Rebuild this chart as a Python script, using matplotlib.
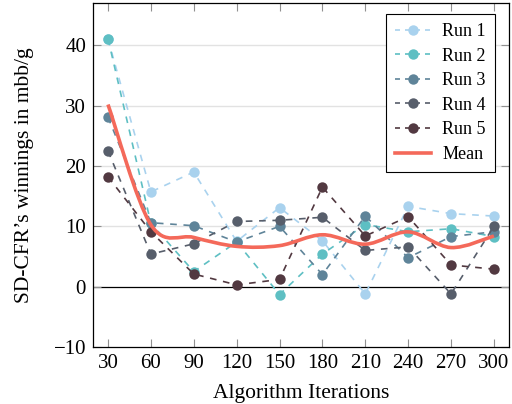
import numpy as np
import matplotlib
matplotlib.use('Agg')
import matplotlib.pyplot as plt
from matplotlib.path import Path
import matplotlib.patches as patches
from matplotlib.lines import Line2D

plt.rcParams['font.family'] = ['Liberation Serif', 'DejaVu Serif']
plt.rcParams['axes.unicode_minus'] = True

# --- DATA ---
iterations = [30, 60, 90, 120, 150, 180, 210, 240, 270, 300]
run1 = [41.0, 15.7, 19.0, 7.5, 13.1, 7.6, -1.2, 13.3, 12.1, 11.7]
run2 = [41.1, 10.5, 2.5, 7.4, -1.3, 5.4, 10.3, 9.1, 9.6, 8.3]
run3 = [28.1, 10.6, 10.1, 7.4, 10.0, 2.0, 11.7, 4.8, 8.3, 9.1]
run4 = [22.5, 5.4, 7.1, 10.8, 11.0, 11.5, 6.0, 6.6, -1.2, 10.0]
run5 = [18.2, 9.1, 2.1, 0.3, 1.2, 16.5, 8.4, 11.6, 3.6, 2.9]
run_labels = ['Run 1', 'Run 2', 'Run 3', 'Run 4', 'Run 5']
run_colors = ['#a9d2ee', '#5ebfc3', '#5f8499', '#575e6b', '#523941']
mean_color = '#f4695a'

runs = [run1, run2, run3, run4, run5]
mean = np.mean(np.array(runs), axis=0)

# --- PLOT ---
fig = plt.figure(figsize=(5.12, 4.04), dpi=100)
ax = fig.add_axes([0.1816, 0.141, 0.8124, 0.8516])

ax.set_xlim(19.5, 310.5)
ax.set_ylim(-10, 47)

for y in [10, 20, 30, 40]:
    ax.axhline(y, color='#e2e2e2', linewidth=1.0, zorder=0)
ax.axhline(0, color='black', linewidth=0.9, zorder=1)

for vals, lab, col in zip(runs, run_labels, run_colors):
    ax.plot(iterations, vals, linestyle=(0, (4, 4)), color=col, linewidth=1.2,
            marker='o', markersize=7.5, markeredgewidth=0, label=lab, zorder=3)

# smooth mean curve (Catmull-Rom style bezier through the mean points)
pts = np.column_stack([iterations, mean])
verts = [tuple(pts[0])]
codes = [Path.MOVETO]
for i in range(len(pts) - 1):
    p0 = pts[max(i - 1, 0)]
    p1 = pts[i]
    p2 = pts[i + 1]
    p3 = pts[min(i + 2, len(pts) - 1)]
    c1 = p1 + (p2 - p0) / 6.0
    c2 = p2 - (p3 - p1) / 6.0
    verts += [tuple(c1), tuple(c2), tuple(p2)]
    codes += [Path.CURVE4, Path.CURVE4, Path.CURVE4]
ax.add_patch(patches.PathPatch(Path(verts, codes), facecolor='none',
                               edgecolor=mean_color, linewidth=2.6, zorder=4))

# --- STYLING ---
ax.set_xticks(iterations)
ax.set_yticks([-10, 0, 10, 20, 30, 40])
ax.tick_params(direction='in', length=6, width=0.8, color='#909090',
               top=True, right=True, labelsize=15, pad=5)
for spine in ax.spines.values():
    spine.set_linewidth(0.9)

ax.set_xlabel('Algorithm Iterations', fontsize=15.5, labelpad=8)
ax.set_ylabel('SD-CFR\u2019s winnings in mbb/g', fontsize=15.5, labelpad=14)

handles = [Line2D([], [], linestyle=(0, (3, 3)), color=c, linewidth=1.2,
                  marker='o', markersize=7.5, markeredgewidth=0) for c in run_colors]
handles.append(Line2D([], [], color=mean_color, linewidth=2.6))
leg = ax.legend(handles, run_labels + ['Mean'], loc='upper right', fontsize=13,
                frameon=True, fancybox=False, edgecolor='black', framealpha=1,
                handlelength=2.0, handletextpad=0.6, borderpad=0.5,
                labelspacing=0.42, borderaxespad=0, bbox_to_anchor=(0.966, 0.968))
leg.get_frame().set_linewidth(0.8)

fig.savefig('out.png', dpi=100)
